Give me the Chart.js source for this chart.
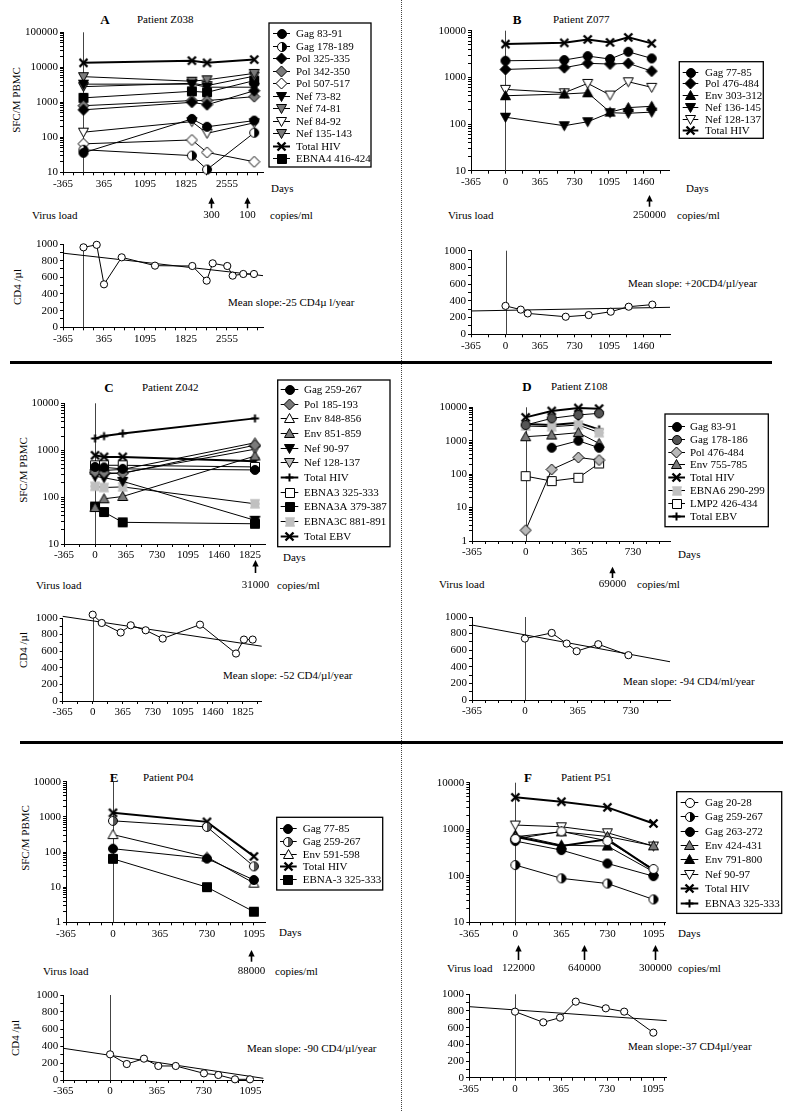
<!DOCTYPE html>
<html lang="en">
<head>
<meta charset="UTF-8">
<title>HIV and EBV epitope responses and CD4 counts</title>
<script src="https://cdn.jsdelivr.net/npm/chart.js@4.4.0/dist/chart.umd.min.js"></script>
<style>
    body { margin: 0; background: #fff; }
    #page { position: relative; width: 798px; height: 1111px; overflow: hidden;
            font-family: 'Liberation Serif', 'Times New Roman', serif; color: #000; }
    #page canvas { position: absolute; }
    .t { position: absolute; font-size: 11px; line-height: 1; white-space: nowrap; transform: translateY(-50%); }
    .c { transform: translate(-50%, -50%); }
    .rot { transform: translate(-50%, -50%) rotate(-90deg); }
    .big { font-size: 13px; font-weight: bold; }
    .hline { position: absolute; height: 3px; background: #000; }
    .vline { position: absolute; left: 401px; top: 0; height: 1111px; border-left: 1px dotted #444; }
</style>
</head>
<body>
<div id="page">
    <div class="vline"></div>
    <div class="hline" style="left:10px;top:361px;width:762px"></div>
    <div class="hline" style="left:20px;top:741px;width:763px"></div>

    <!-- panel A -->
    <div class="t c big" style="left:105px;top:19px">A</div>
    <div class="t" style="left:137px;top:19px">Patient Z038</div>
    <div class="t rot" style="left:16px;top:100px">SFC/M PBMC</div>
    <div class="t" style="left:271px;top:188px">Days</div>
    <div class="t" style="left:32px;top:215px">Virus load</div>
    <div class="t" style="left:270px;top:215px">copies/ml</div>
    <div class="t rot" style="left:17px;top:287px">CD4 /µl</div>
    <div class="t" style="left:228px;top:302px">Mean slope:-25 CD4µ l/year</div>

    <!-- panel B -->
    <div class="t c big" style="left:517px;top:19px">B</div>
    <div class="t" style="left:553px;top:19px">Patient Z077</div>
    <div class="t" style="left:686px;top:188px">Days</div>
    <div class="t" style="left:448px;top:215px">Virus load</div>
    <div class="t" style="left:677px;top:215px">copies/ml</div>
    <div class="t" style="left:628px;top:283px">Mean slope: +20CD4/µl/year</div>

    <!-- panel C -->
    <div class="t c big" style="left:109px;top:387px">C</div>
    <div class="t" style="left:142px;top:387px">Patient Z042</div>
    <div class="t rot" style="left:23px;top:470px">SFC/M PBMC</div>
    <div class="t" style="left:283px;top:557px">Days</div>
    <div class="t" style="left:36px;top:585px">Virus load</div>
    <div class="t" style="left:277px;top:585px">copies/ml</div>
    <div class="t rot" style="left:23px;top:650px">CD4 /µl</div>
    <div class="t" style="left:223px;top:675px">Mean slope: -52 CD4/µl/year</div>

    <!-- panel D -->
    <div class="t c big" style="left:527px;top:386px">D</div>
    <div class="t" style="left:551px;top:386px">Patient Z108</div>
    <div class="t" style="left:678px;top:554px">Days</div>
    <div class="t" style="left:439px;top:584px">Virus load</div>
    <div class="t" style="left:637px;top:584px">copies/ml</div>
    <div class="t" style="left:623px;top:681px">Mean slope: -94 CD4/ml/year</div>

    <!-- panel E -->
    <div class="t c big" style="left:114px;top:777px">E</div>
    <div class="t" style="left:143px;top:777px">Patient P04</div>
    <div class="t rot" style="left:25px;top:838px">SFC/M PBMC</div>
    <div class="t" style="left:279px;top:932px">Days</div>
    <div class="t" style="left:43px;top:971px">Virus load</div>
    <div class="t" style="left:275px;top:971px">copies/ml</div>
    <div class="t rot" style="left:15px;top:1038px">CD4 /µl</div>
    <div class="t" style="left:247px;top:1048px">Mean slope: -90 CD4/µl/year</div>

    <!-- panel F -->
    <div class="t c big" style="left:528px;top:777px">F</div>
    <div class="t" style="left:561px;top:777px">Patient P51</div>
    <div class="t" style="left:678px;top:933px">Days</div>
    <div class="t" style="left:447px;top:968px">Virus load</div>
    <div class="t" style="left:678px;top:968px">copies/ml</div>
    <div class="t" style="left:628px;top:1046px">Mean slope:-37 CD4µl/year</div>
</div>

<script>
// ---------------- data (days since first sample, SFC per million PBMC) ----------------

// Patient Z038
const aDays = [0, 1930, 2200, 3040];
const aGag8391 = [36, 335, 200, 300];
const aGag178189 = [44, 30, 12, 135];
const aPol325335 = [610, 1000, 850, 2140];
const aPol342350 = [800, 1120, 1120, 1450];
const aPol507517 = [65, 84, 37, 20];
const aNef7382 = [3300, 3300, 2700, 2700];
const aNef7481 = [5400, 4000, 4400, 6700];
const aNef8492 = [140, 280, 130, 260];
const aNef135143 = [2800, 3500, 3000, 5600];
const aTotalHiv = [13400, 15500, 13400, 16600];
const aEbna4 = [1340, 2060, 1930, 4170];
const aLoadDays = [2270, 2910];
const aLoadText = ['300', '100'];
const aCd4Days = [0, 235, 365, 680, 1273, 1937, 2193, 2300, 2560, 2656, 2845, 3035];
const aCd4 = [960, 990, 516, 840, 740, 736, 560, 768, 736, 620, 640, 640];
const aFitDays = [-365, 3196];
const aFit = [890, 620];

// Patient Z077
const bDays = [0, 622, 870, 1106, 1299, 1547];
const bGag7785 = [2270, 2350, 2860, 2470, 3530, 2550];
const bPol476484 = [1480, 1610, 2000, 1930, 2000, 1360];
const bEnv303312 = [404, 440, 468, 180, 225, 240];
const bNef136145 = [140, 92, 112, 175, 170, 180];
const bNef128137 = [553, 468, 743, 418, 805, 611];
const bTotalHiv = [5160, 5500, 6510, 5610, 7190, 5350];
const bLoadDays = [1518];
const bLoadText = ['250000'];
const bCd4Days = [0, 161, 235, 637, 880, 1113, 1303, 1553];
const bCd4 = [340, 295, 250, 210, 230, 270, 330, 355];
const bFitDays = [-365, 1740];
const bFit = [279, 323];

// Patient Z042
const cDays = [0, 106, 326, 1883];
const cGag259267 = [440, 430, 400, 380];
const cPol185193 = [340, 330, 320, 1280];
const cEnv848856 = [373, 370, 390, 1440];
const cEnv851859 = [60, 92, 103, 750];
const cNef9097 = [277, 259, 217, 32];
const cNef128137 = [316, 310, 330, 1050];
const cTotalHiv = [1780, 2000, 2280, 4770];
const cEbna3 = [477, 477, 477, 440];
const cEbna3a = [63, 48, 29, 27];
const cEbna3c = [170, 160, 165, 72];
const cTotalEbv = [780, 720, 720, 580];
const cLoadDays = [1883];
const cLoadText = ['31000'];
const cCd4Days = [0, 110, 341, 463, 645, 852, 1306, 1744, 1841, 1947];
const cCd4 = [1040, 940, 825, 912, 852, 752, 920, 572, 740, 740];
const cFitDays = [-365, 2057];
const cFit = [1020, 660];

// Patient Z108
const dDays = [0, 177, 358, 499];
const dGag8391 = [null, 617, 1000, 617];
const dGag178186 = [2950, 4680, 5900, 6600];
const dPol476484 = [2.1, 138, 316, 263];
const dEnv755785 = [1320, 1480, 1740, 830];
const dTotalHiv = [5000, 7760, 9550, 9120];
const dEbna6 = [2750, 2630, 2950, 1740];
const dLmp2 = [87, 62, 78, 209];
const dTotalEbv = [3160, 2950, 3470, 2190];
const dLoadDays = [589];
const dLoadText = ['69000'];
const dCd4Days = [0, 185, 288, 357, 506, 714];
const dCd4 = [740, 808, 680, 588, 672, 540];
const dFitDays = [-365, 1001];
const dFit = [903, 461];

// Patient P04
const eDays = [0, 730, 1095];
const eGag7785 = [124, 65, 16];
const eGag259267 = [770, 518, 39];
const eEnv591598 = [313, 72, 13];
const eTotalHiv = [1300, 720, 75];
const eEbna3 = [64, 10, 2];
const eLoadDays = [1075];
const eLoadText = ['88000'];
const eCd4Days = [0, 130, 264, 376, 512, 732, 844, 974, 1091];
const eCd4 = [302, 188, 251, 165, 165, 78, 59, 8, 8];
const eFitDays = [-365, 1195];
const eFit = [373, 20];

// Patient P51
const fDays = [0, 365, 730, 1095];
const fGag2028 = [620, 900, 560, 140];
const fGag259267 = [170, 88, 68, 31];
const fGag263272 = [557, 356, 184, 98];
const fEnv424431 = [690, 880, 700, 440];
const fEnv791800 = [750, 457, 435, 122];
const fNef9097 = [1230, 1130, 840, 435];
const fTotalHiv = [4840, 3900, 2950, 1330];
const fEbna3 = [690, 435, 606, 132];
const fLoadDays = [24, 547, 1108];
const fLoadText = ['122000', '640000', '300000'];
const fCd4Days = [0, 224, 357, 482, 720, 866, 1097];
const fCd4 = [792, 664, 720, 912, 832, 792, 540];
const fFitDays = [-365, 1203];
const fFit = [852, 684];

// ---------------- drawing ----------------
const FONT = "'Liberation Serif', 'Times New Roman', serif";
Chart.defaults.font.family = FONT;
Chart.defaults.font.size = 11;
Chart.defaults.color = '#000';
Chart.defaults.animation = false;
Chart.defaults.plugins.legend.display = false;
Chart.defaults.plugins.tooltip.enabled = false;

const YW = 40, XH = 16;
const page = document.getElementById('page');
const charts = [];
const FILL = { black: '#000', dgrey: '#555', grey: '#7a7a7a', lgrey: '#b8b8b8', white: '#fff' };

// marker glyphs as little canvases, used as pointStyle
function marker(shape, fill, size) {
    const s = size || 9, c = document.createElement('canvas');
    c.width = c.height = s + 3;
    const g = c.getContext('2d'), m = (s + 3) / 2, r = s / 2;
    g.strokeStyle = '#000';
    g.lineWidth = 1;
    if (fill === 'dots') {
        g.fillStyle = '#d2d2d2';
        g.fillRect(m - r, m - r, s, s);
        g.fillStyle = '#8c8c8c';
        for (let i = 0; i < s; i += 2)
            for (let j = (i / 2) % 2; j < s; j += 2) g.fillRect(m - r + j, m - r + i, 1, 1);
        return c;
    }
    if (shape === 'x' || shape === 'plus') {
        g.lineWidth = shape === 'x' ? 2.4 : 2;
        g.beginPath();
        if (shape === 'x') {
            g.moveTo(m - r, m - r); g.lineTo(m + r, m + r);
            g.moveTo(m + r, m - r); g.lineTo(m - r, m + r);
        } else {
            g.moveTo(m, m - r); g.lineTo(m, m + r);
            g.moveTo(m - r, m); g.lineTo(m + r, m);
        }
        g.stroke();
        return c;
    }
    g.beginPath();
    if (shape === 'circle' || shape === 'half') g.arc(m, m, r, 0, Math.PI * 2);
    else if (shape === 'square') g.rect(m - r, m - r, s, s);
    else if (shape === 'diamond') {
        g.moveTo(m, m - r - 0.5); g.lineTo(m + r + 0.5, m); g.lineTo(m, m + r + 0.5); g.lineTo(m - r - 0.5, m); g.closePath();
    } else if (shape === 'tri') {
        g.moveTo(m, m - r); g.lineTo(m + r, m + r * 0.8); g.lineTo(m - r, m + r * 0.8); g.closePath();
    } else if (shape === 'tridown') {
        g.moveTo(m, m + r); g.lineTo(m + r, m - r * 0.8); g.lineTo(m - r, m - r * 0.8); g.closePath();
    }
    g.fillStyle = shape === 'half' ? '#fff' : FILL[fill];
    g.fill();
    if (shape === 'half') {
        g.beginPath(); g.arc(m, m, r, -Math.PI / 2, Math.PI / 2); g.closePath();
        g.fillStyle = FILL[fill]; g.fill();
        g.beginPath(); g.arc(m, m, r, 0, Math.PI * 2);
    }
    g.stroke();
    return c;
}

function lineSets(days, series) {
    return series.map(([label, vals, shape, fill, w]) => ({
        label,
        data: days.map((d, i) => ({ x: d, y: vals[i] })),
        borderColor: '#000',
        borderWidth: w || 1,
        pointStyle: marker(shape, fill, (shape === 'x' || shape === 'plus') ? 8 : (shape === 'tri' || shape === 'tridown' || shape === 'diamond') ? 10 : 9),
        pointRadius: 5,
        clip: false,
        spanGaps: false
    }));
}

function cd4Sets(days, vals, fitDays, fitVals) {
    return [
        { data: days.map((d, i) => ({ x: d, y: vals[i] })), borderColor: '#000', borderWidth: 1,
          pointStyle: 'circle', pointRadius: 3.6, pointBackgroundColor: '#fff', pointBorderColor: '#000',
          pointBorderWidth: 1, clip: false },
        { data: fitDays.map((d, i) => ({ x: d, y: fitVals[i] })), borderColor: '#000', borderWidth: 1,
          pointRadius: 0, clip: false }
    ];
}

const tickGrid = { drawOnChartArea: false, drawTicks: true, tickLength: 3, color: '#000' };

function xAxis(min, max, step, labels) {
    return {
        type: 'linear', min, max,
        afterBuildTicks: s => {
            const t = [];
            for (let v = min; v <= max + 1e-6; v += step) t.push({ value: v });
            s.ticks = t;
        },
        afterFit: s => { s.height = XH; },
        ticks: { autoSkip: false, maxRotation: 0, padding: 2,
                 callback: v => labels.some(l => Math.abs(l - v) < 1e-6) ? String(Math.round(v)) : '' },
        grid: tickGrid,
        border: { color: '#000', width: 1 }
    };
}

function logAxis(min, max) {
    return {
        type: 'logarithmic', min, max,
        afterBuildTicks: s => {
            const t = [];
            for (let p = min; p < max; p *= 10)
                for (let k = 1; k < 10; k++) t.push({ value: p * k });
            t.push({ value: max });
            s.ticks = t;
        },
        afterFit: s => { s.width = YW; },
        ticks: { autoSkip: false, padding: 2,
                 callback: v => Math.abs(Math.log10(v) - Math.round(Math.log10(v))) < 1e-9 ? String(v) : '' },
        grid: tickGrid,
        border: { color: '#000', width: 1 }
    };
}

function cd4Axis() {
    return {
        type: 'linear', min: 0, max: 1000,
        afterBuildTicks: s => {
            const t = [];
            for (let v = 0; v <= 1000; v += 100) t.push({ value: v });
            s.ticks = t;
        },
        afterFit: s => { s.width = YW; },
        ticks: { autoSkip: false, padding: 2, callback: v => v % 200 === 0 ? String(v) : '' },
        grid: tickGrid,
        border: { color: '#000', width: 1 }
    };
}

// vertical line at day 0
const zeroLine = {
    id: 'zeroLine',
    beforeDatasetsDraw(chart) {
        const g = chart.ctx, a = chart.chartArea;
        const x = Math.round(chart.scales.x.getPixelForValue(0)) + 0.5;
        g.save();
        g.strokeStyle = '#444';
        g.lineWidth = 1;
        g.beginPath(); g.moveTo(x, a.top); g.lineTo(x, a.bottom); g.stroke();
        g.restore();
    }
};

function legendPlugin(L, box) {
    return {
        id: 'boxLegend',
        afterDraw(chart) {
            if (!L) return;
            const g = chart.ctx;
            g.save();
            g.lineWidth = 1.3;
            g.strokeStyle = '#000';
            g.strokeRect(L.x - box.x, L.y - box.y, L.w, L.h);
            g.font = '11px ' + FONT;
            g.fillStyle = '#000';
            g.textBaseline = 'middle';
            chart.data.datasets.forEach((ds, i) => {
                const y = Math.round(L.first + i * L.step - box.y) + 0.5;
                g.lineWidth = ds.borderWidth;
                g.beginPath(); g.moveTo(L.l1 - box.x, y); g.lineTo(L.l2 - box.x, y); g.stroke();
                const im = ds.pointStyle, cx = (L.l1 + L.l2) / 2 - box.x;
                g.drawImage(im, Math.round(cx - im.width / 2), Math.round(y - im.height / 2));
                g.fillText(ds.label, L.tx - box.x, y + 0.5);
            });
            g.restore();
        }
    };
}

function arrowPlugin(A) {
    return {
        id: 'loadArrows',
        afterDraw(chart) {
            if (!A) return;
            const g = chart.ctx, b = chart.chartArea.bottom;
            g.save();
            g.fillStyle = '#000';
            g.strokeStyle = '#000';
            g.lineWidth = 1.6;
            g.font = '11px ' + FONT;
            g.textAlign = 'center';
            g.textBaseline = 'middle';
            A.days.forEach((d, i) => {
                const x = Math.round(chart.scales.x.getPixelForValue(d)) + 0.5;
                g.beginPath(); g.moveTo(x, b + A.tail); g.lineTo(x, b + A.tip + 4); g.stroke();
                g.beginPath(); g.moveTo(x, b + A.tip); g.lineTo(x - 3.2, b + A.tip + 6.5); g.lineTo(x + 3.2, b + A.tip + 6.5);
                g.closePath(); g.fill();
                g.fillText(A.text[i], x, b + A.label);
            });
            g.restore();
        }
    };
}

function build(box, plot, cfg) {
    const cv = document.createElement('canvas');
    cv.width = box.w;
    cv.height = box.h;
    cv.style.left = box.x + 'px';
    cv.style.top = box.y + 'px';
    page.appendChild(cv);
    charts.push(new Chart(cv, {
        type: 'line',
        data: { datasets: cfg.datasets },
        options: {
            responsive: false,
            devicePixelRatio: 1,
            layout: { padding: {
                left: plot.l - box.x - YW,
                top: plot.t - box.y,
                right: box.x + box.w - plot.r,
                bottom: box.y + box.h - plot.b - XH
            } },
            scales: { x: cfg.x, y: cfg.y }
        },
        plugins: [zeroLine, legendPlugin(cfg.legend, box), arrowPlugin(cfg.arrows)]
    }));
}

// ---------------- panels ----------------

// A
build({ x: 0, y: 20, w: 400, h: 205 }, { l: 63, t: 32.3, r: 263, b: 172.3 }, {
    datasets: lineSets(aDays, [
        ['Gag 83-91', aGag8391, 'circle', 'black'],
        ['Gag 178-189', aGag178189, 'half', 'black'],
        ['Pol 325-335', aPol325335, 'diamond', 'black'],
        ['Pol 342-350', aPol342350, 'diamond', 'grey'],
        ['Pol 507-517', aPol507517, 'diamond', 'white'],
        ['Nef 73-82', aNef7382, 'tridown', 'black'],
        ['Nef 74-81', aNef7481, 'tridown', 'grey'],
        ['Nef 84-92', aNef8492, 'tridown', 'white'],
        ['Nef 135-143', aNef135143, 'tridown', 'grey'],
        ['Total HIV', aTotalHiv, 'x', 'black', 2],
        ['EBNA4 416-424', aEbna4, 'square', 'black']
    ]),
    x: xAxis(-365, 3196, 182.5, [-365, 365, 1095, 1825, 2555]),
    y: logAxis(10, 100000),
    legend: { x: 269, y: 23, w: 102, h: 144, first: 33, step: 12.5, l1: 273, l2: 290, tx: 296 },
    arrows: { days: aLoadDays, text: aLoadText, tip: 25, tail: 36, label: 43 }
});
build({ x: 0, y: 232, w: 400, h: 115 }, { l: 63, t: 244, r: 263, b: 327.3 }, {
    datasets: cd4Sets(aCd4Days, aCd4, aFitDays, aFit),
    x: xAxis(-365, 3196, 182.5, [-365, 365, 1095, 1825, 2555]),
    y: cd4Axis()
});

// B
build({ x: 403, y: 18, w: 395, h: 207 }, { l: 471, t: 30.7, r: 669, b: 170.7 }, {
    datasets: lineSets(bDays, [
        ['Gag 77-85', bGag7785, 'circle', 'black'],
        ['Pol 476-484', bPol476484, 'diamond', 'black'],
        ['Env 303-312', bEnv303312, 'tri', 'black'],
        ['Nef 136-145', bNef136145, 'tridown', 'black'],
        ['Nef 128-137', bNef128137, 'tridown', 'white'],
        ['Total HIV', bTotalHiv, 'x', 'black', 2]
    ]),
    x: xAxis(-365, 1730, 182.5, [-365, 0, 365, 730, 1095, 1460]),
    y: logAxis(10, 10000),
    legend: { x: 679.3, y: 61.7, w: 84, h: 76.6, first: 71.7, step: 11.7, l1: 682.7, l2: 698.3, tx: 705 },
    arrows: { days: bLoadDays, text: bLoadText, tip: 24.3, tail: 36, label: 44.3 }
});
build({ x: 403, y: 238, w: 395, h: 115 }, { l: 471, t: 250.7, r: 670, b: 334.3 }, {
    datasets: cd4Sets(bCd4Days, bCd4, bFitDays, bFit),
    x: xAxis(-365, 1740, 182.5, [-365, 0, 365, 730, 1095, 1460]),
    y: cd4Axis()
});

// C
build({ x: 0, y: 372, w: 400, h: 222 }, { l: 64, t: 403.3, r: 265, b: 544 }, {
    datasets: lineSets(cDays, [
        ['Gag 259-267', cGag259267, 'circle', 'black'],
        ['Pol 185-193', cPol185193, 'diamond', 'grey'],
        ['Env 848-856', cEnv848856, 'tri', 'white'],
        ['Env 851-859', cEnv851859, 'tri', 'grey'],
        ['Nef 90-97', cNef9097, 'tridown', 'black'],
        ['Nef 128-137', cNef128137, 'tridown', 'lgrey'],
        ['Total HIV', cTotalHiv, 'plus', 'black', 2],
        ['EBNA3 325-333', cEbna3, 'square', 'white'],
        ['EBNA3A 379-387', cEbna3a, 'square', 'black'],
        ['EBNA3C 881-891', cEbna3c, 'square', 'dots'],
        ['Total EBV', cTotalEbv, 'x', 'black', 2]
    ]),
    x: xAxis(-365, 2001, 182.5, [-365, 0, 365, 730, 1095, 1460, 1825]),
    y: logAxis(10, 10000),
    legend: { x: 277.7, y: 380, w: 112.3, h: 166.7, first: 389, step: 14.67, l1: 280.7, l2: 298.3, tx: 304 },
    arrows: { days: cLoadDays, text: cLoadText, tip: 16, tail: 29, label: 41 }
});
build({ x: 0, y: 605, w: 400, h: 120 }, { l: 62.7, t: 618, r: 261.7, b: 701 }, {
    datasets: cd4Sets(cCd4Days, cCd4, cFitDays, cFit),
    x: xAxis(-365, 2057, 182.5, [-365, 0, 365, 730, 1095, 1460, 1825]),
    y: cd4Axis()
});

// D
build({ x: 403, y: 395, w: 395, h: 197 }, { l: 472, t: 407.3, r: 670.7, b: 541 }, {
    datasets: lineSets(dDays, [
        ['Gag 83-91', dGag8391, 'circle', 'black'],
        ['Gag 178-186', dGag178186, 'circle', 'dgrey'],
        ['Pol 476-484', dPol476484, 'diamond', 'lgrey'],
        ['Env 755-785', dEnv755785, 'tri', 'grey'],
        ['Total HIV', dTotalHiv, 'x', 'black', 2],
        ['EBNA6 290-299', dEbna6, 'square', 'dots'],
        ['LMP2 426-434', dLmp2, 'square', 'white'],
        ['Total EBV', dTotalEbv, 'plus', 'black', 2]
    ]),
    x: xAxis(-365, 986, 91.25, [-365, 0, 365, 730]),
    y: logAxis(1, 10000),
    legend: { x: 665, y: 414, w: 103.3, h: 112.7, first: 425.7, step: 12.9, l1: 668.3, l2: 685, tx: 690 },
    arrows: { days: dLoadDays, text: dLoadText, tip: 25.7, tail: 37, label: 43 }
});
build({ x: 403, y: 605, w: 395, h: 118 }, { l: 472, t: 617, r: 670, b: 700 }, {
    datasets: cd4Sets(dCd4Days, dCd4, dFitDays, dFit),
    x: xAxis(-365, 1001, 91.25, [-365, 0, 365, 730]),
    y: cd4Axis()
});

// E
build({ x: 0, y: 770, w: 400, h: 210 }, { l: 66, t: 781.7, r: 265, b: 922.3 }, {
    datasets: lineSets(eDays, [
        ['Gag 77-85', eGag7785, 'circle', 'black'],
        ['Gag 259-267', eGag259267, 'half', 'dgrey'],
        ['Env 591-598', eEnv591598, 'tri', 'white'],
        ['Total HIV', eTotalHiv, 'x', 'black', 2],
        ['EBNA-3 325-333', eEbna3, 'square', 'black']
    ]),
    x: xAxis(-365, 1181, 91.25, [-365, 0, 365, 730, 1095]),
    y: logAxis(1, 10000),
    legend: { x: 276.7, y: 817.3, w: 106, h: 72.7, first: 828.3, step: 12.6, l1: 280, l2: 296.7, tx: 302.7 },
    arrows: { days: eLoadDays, text: eLoadText, tip: 27.7, tail: 39.4, label: 48.4 }
});
build({ x: 0, y: 983, w: 400, h: 118 }, { l: 63.3, t: 995, r: 263.3, b: 1080 }, {
    datasets: cd4Sets(eCd4Days, eCd4, eFitDays, eFit),
    x: xAxis(-365, 1195, 91.25, [-365, 0, 365, 730, 1095]),
    y: cd4Axis()
});

// F
build({ x: 403, y: 770, w: 395, h: 207 }, { l: 469.3, t: 782.7, r: 665.7, b: 922.3 }, {
    datasets: lineSets(fDays, [
        ['Gag 20-28', fGag2028, 'circle', 'white'],
        ['Gag 259-267', fGag259267, 'half', 'black'],
        ['Gag 263-272', fGag263272, 'circle', 'black'],
        ['Env 424-431', fEnv424431, 'tri', 'grey'],
        ['Env 791-800', fEnv791800, 'tri', 'black'],
        ['Nef 90-97', fNef9097, 'tridown', 'white'],
        ['Total HIV', fTotalHiv, 'x', 'black', 2],
        ['EBNA3 325-333', fEbna3, 'plus', 'black', 2]
    ]),
    x: xAxis(-365, 1192, 91.25, [-365, 0, 365, 730, 1095]),
    y: logAxis(10, 10000),
    legend: { x: 676.7, y: 791.7, w: 105, h: 121.7, first: 801.7, step: 14.4, l1: 680.7, l2: 698.3, tx: 705 },
    arrows: { days: fLoadDays, text: fLoadText, tip: 22.7, tail: 37.7, label: 46 }
});
build({ x: 403, y: 982, w: 395, h: 118 }, { l: 469, t: 994.3, r: 666.7, b: 1077.7 }, {
    datasets: cd4Sets(fCd4Days, fCd4, fFitDays, fFit),
    x: xAxis(-365, 1203, 91.25, [-365, 0, 365, 730, 1095]),
    y: cd4Axis()
});

// redraw once the serif face is ready so canvas text does not fall back
if (document.fonts && document.fonts.load) {
    document.fonts.load("11px 'Liberation Serif'").then(() => charts.forEach(c => c.update()));
}
</script>
</body>
</html>
